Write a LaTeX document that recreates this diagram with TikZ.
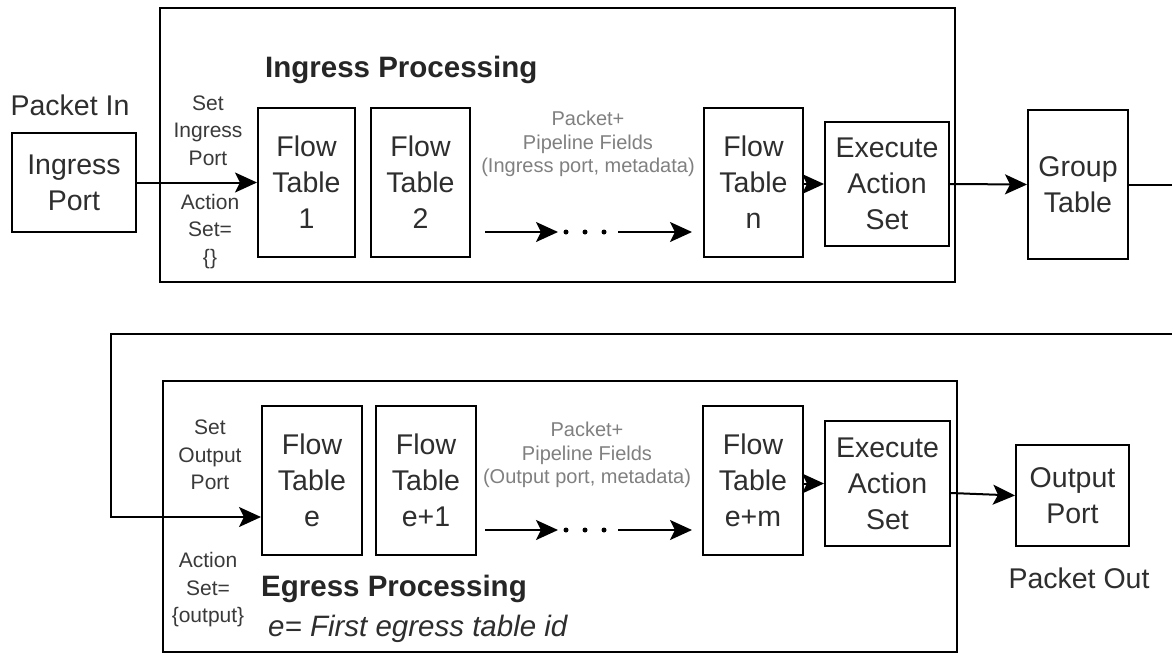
\documentclass[tikz,border=0pt]{standalone}
\usepackage{fontspec}
\setmainfont{Liberation Sans}
\usetikzlibrary{arrows.meta}
\definecolor{maintext}{HTML}{2E2E2E}
\definecolor{smalltext}{HTML}{3A3A3A}
\definecolor{fieldtext}{HTML}{808080}
\begin{document}
\begin{tikzpicture}[x=1pt,y=-1pt,
  box/.style={draw=black, line width=2pt, align=center, inner sep=0pt,
    font=\fontsize{28.5}{36}\selectfont, text=maintext},
  container/.style={draw=black, line width=2pt, inner sep=0pt},
  arr/.style={draw=black, line width=2pt, -{Stealth[length=22pt,width=20pt,inset=5pt]}},
  small/.style={align=center, inner sep=0pt, font=\fontsize{21}{27.5}\selectfont, text=smalltext},
  field/.style={align=center, inner sep=0pt, font=\fontsize{20}{23.5}\selectfont, text=fieldtext},
  label/.style={inner sep=0pt, font=\fontsize{28.5}{36}\selectfont, text=maintext},
  title/.style={inner sep=0pt, font=\fontsize{29.5}{36}\selectfont\bfseries, text=black!85},
  dotmark/.style={circle, fill=black, inner sep=0pt, minimum size=5pt}
]
\clip (0,0) rectangle (1172,654);
\fill[white] (0,0) rectangle (1172,654);

% containers
\node[container, minimum width=795pt, minimum height=274pt] (ingbox) at (557.5,145) {};
\node[container, minimum width=794pt, minimum height=271pt] (egbox) at (560,516.5) {};

% ingress row
\node[box, minimum width=124pt, minimum height=99pt] (ip) at (74,182.5) {Ingress\\Port};
\node[box, minimum width=97pt, minimum height=149pt] (ft1) at (306.5,182.5) {Flow\\Table\\1};
\node[box, minimum width=99pt, minimum height=149pt] (ft2) at (420.5,182.5) {Flow\\Table\\2};
\node[box, minimum width=99pt, minimum height=149pt] (ftn) at (753.5,182.5) {Flow\\Table\\n};
\node[box, minimum width=124pt, minimum height=124pt] (ex1) at (887,184) {Execute\\Action\\Set};
\node[box, minimum width=100pt, minimum height=149pt] (gt) at (1078,184.5) {Group\\Table};

% egress row
\node[box, minimum width=100pt, minimum height=149pt] (fte) at (312,480.5) {Flow\\Table\\e};
\node[box, minimum width=100pt, minimum height=149pt] (fte1) at (426,480.5) {Flow\\Table\\e+1};
\node[box, minimum width=100pt, minimum height=149pt] (ftem) at (753,480.5) {Flow\\Table\\e+m};
\node[box, minimum width=125pt, minimum height=125pt] (ex2) at (887.5,483.5) {Execute\\Action\\Set};
\node[box, minimum width=113pt, minimum height=101pt] (op) at (1072.5,495.5) {Output\\Port};

% labels
\node[label, anchor=base] (pin) at (70,115) {Packet In};
\node[label, anchor=base] (pout) at (1079,588) {Packet Out};
\node[title, anchor=base west] (ingt) at (265,77) {Ingress Processing};
\node[title, anchor=base west] (egt) at (261,596) {Egress Processing};
\node[label, anchor=base west, font=\fontsize{29.5}{36}\selectfont\itshape] (eid) at (268,636) {e= First egress table id};

\node[small] (sip) at (208,130.5) {Set\\Ingress\\Port};
\node[small] (as1) at (210,231.5) {Action\\Set=\\\{\}};
\node[small] (sop) at (210,455) {Set\\Output\\Port};
\node[small] (as2) at (208,590) {Action\\Set=\\\{output\}};

\node[field] (pf1) at (588,144) {Packet+\\Pipeline Fields\\(Ingress port, metadata)};
\node[field] (pf2) at (587,455) {Packet+\\Pipeline Fields\\(Output port, metadata)};

% connectors ingress
\draw[arr] (ip.east) -- (ft1.west);
\draw[arr] (ftn.east |- ex1.west) -- (ex1.west);
\draw[arr] (ex1.east) -- (gt.west);

% loop to egress
\coordinate (r1) at (1200,334);
\coordinate (l1) at (111,517);
\draw[arr] (gt.east) -| (r1) -| (l1) -- ([yshift=-36.5pt]fte.west);

% connectors egress
\draw[arr] (ftem.east |- ex2.west) -- (ex2.west);
\draw[arr] ([yshift=-9.5pt]ex2.east) -- (op.west);

% dotted pipelines
\coordinate (a1s) at (485,232); \coordinate (a1e) at (558,232);
\coordinate (a2s) at (618,232); \coordinate (a2e) at (692,232);
\draw[arr] (a1s) -- (a1e);
\draw[arr] (a2s) -- (a2e);
\node[dotmark] (d11) at (566,232) {};
\node[dotmark] (d12) at (585,232) {};
\node[dotmark] (d13) at (604,232) {};

\coordinate (b1s) at (485,530); \coordinate (b1e) at (558,530);
\coordinate (b2s) at (618,530); \coordinate (b2e) at (692,530);
\draw[arr] (b1s) -- (b1e);
\draw[arr] (b2s) -- (b2e);
\node[dotmark] (d21) at (566,530) {};
\node[dotmark] (d22) at (585,530) {};
\node[dotmark] (d23) at (604,530) {};
\end{tikzpicture}
\end{document}
